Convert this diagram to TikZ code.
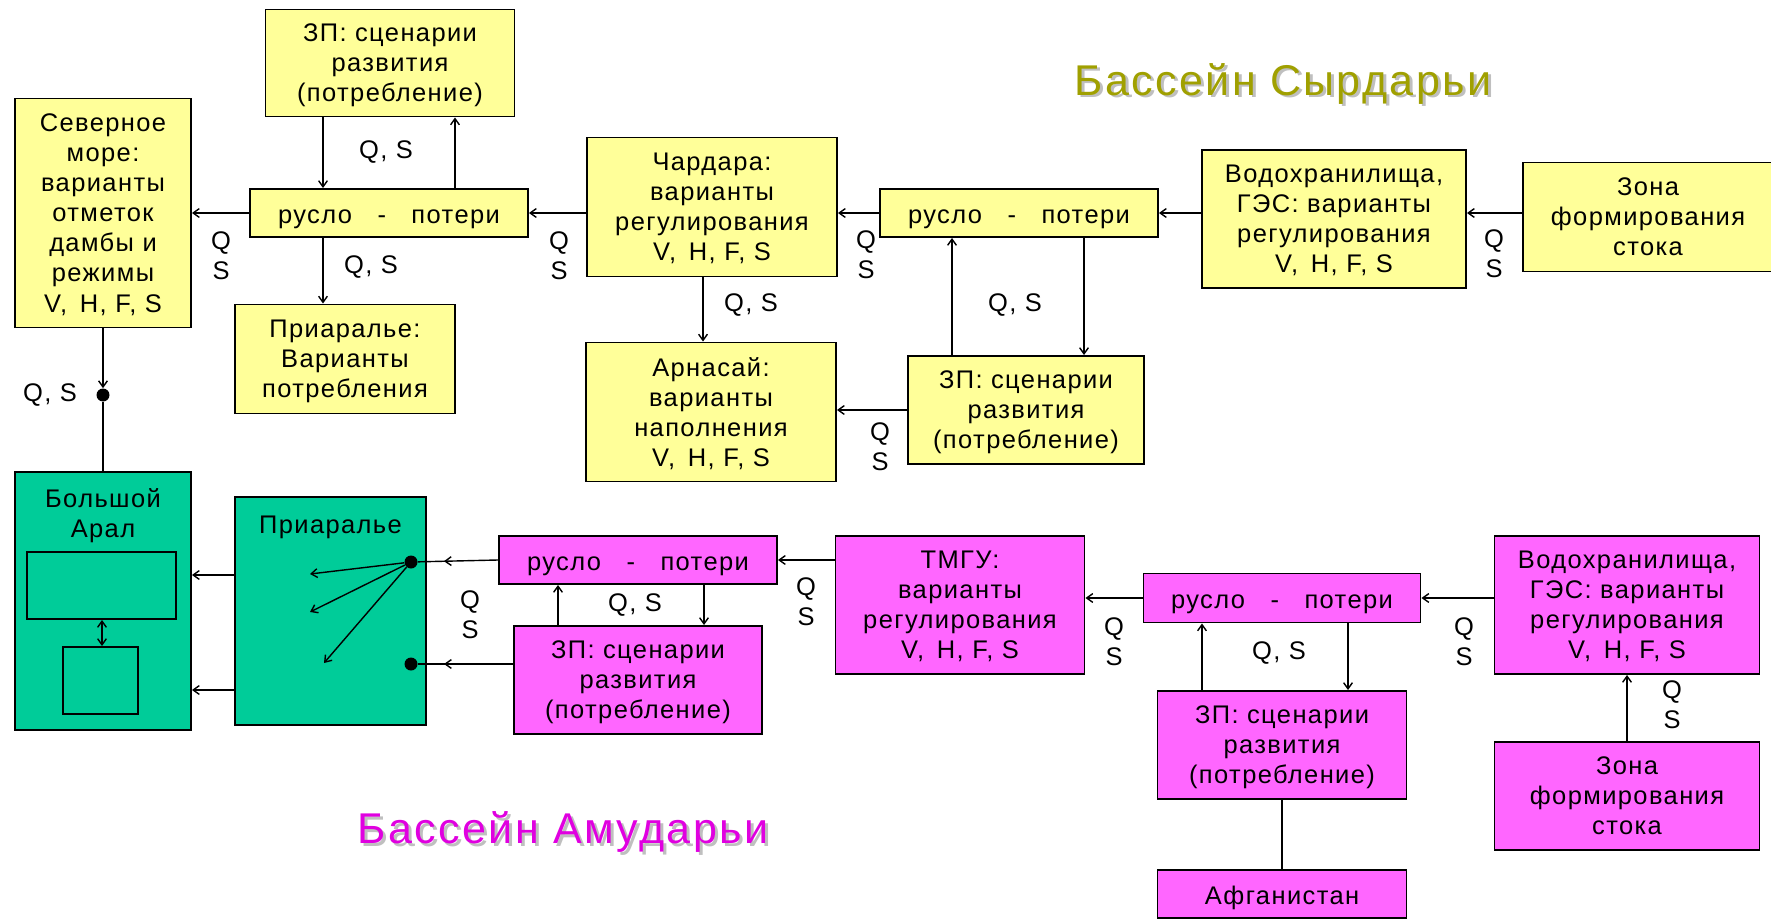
\documentclass[tikz,border=0pt]{standalone}
\usepackage{fontspec}
\setmainfont[LetterSpace=5.5]{Liberation Sans}
\usetikzlibrary{arrows.meta,decorations.markings}
\definecolor{syrfill}{HTML}{FFFF99}
\definecolor{amufill}{HTML}{FF66FF}
\definecolor{aralfill}{HTML}{00CC99}
\definecolor{syrtitle}{HTML}{A0A000}
\definecolor{amutitle}{HTML}{E000E0}
\tikzset{
  box/.style={
    draw=black, line width=1.1pt, inner sep=0pt, align=center,
    font=\fontsize{14.5}{17.1}\selectfont,
    execute at begin node={\rule{0pt}{15.5pt}}
  },
  tall/.style={text depth=#1},
  tall/.default=-1.2pt,
  boxsize/.style 2 args={minimum width=#1*0.02cm, minimum height=#2*0.02cm},
  syr box/.style={box, fill=syrfill},
  amu box/.style={box, fill=amufill},
  aral box/.style={box, fill=aralfill},
  link/.style={line width=0.8pt},
  flow/.style={link, -{Straight Barb[length=3.5pt,width=5pt]}},
  flow both/.style={link, {Straight Barb[length=3.5pt,width=5pt]}-{Straight Barb[length=3.5pt,width=5pt]}},
  mid flow/.style={
    link, postaction={decorate},
    decoration={markings,
      mark=at position #1 with {\arrow{Straight Barb[length=3.5pt,width=5pt]}}}
  },
  flow label/.style={align=center, inner sep=0pt, font=\fontsize{14.5}{17.1}\selectfont},
  junction/.style={circle, fill=black, inner sep=0pt, minimum size=0.26cm},
  basin title/.style={font=\fontsize{24.5}{29}\selectfont, anchor=base, inner sep=0pt}
}

\begin{document}
\begin{tikzpicture}[x=0.02cm, y=-0.02cm]
\useasboundingbox (0,0) rectangle (1771,919);

% Бассейн Сырдарьи
\begin{scope}
  \node[basin title, text=black!25] (syrShadow) at (1286,98) {Бассейн Сырдарьи};
  \node[basin title, text=syrtitle] (syrTitle) at (1283,95) {Бассейн Сырдарьи};

  \node[syr box, tall, boxsize={249}{107}] (zpA)   at (390,63)  {ЗП: сценарии\\развития\\(потребление)};
  \node[syr box, tall, boxsize={176}{229}] (sever) at (103,213) {Северное\\море:\\варианты\\отметок\\дамбы и\\режимы\\V, \,H, F, S};
  \node[syr box, boxsize={278}{48}]        (ruslA) at (389,213) {русло\quad-\quad потери};
  \node[syr box, tall, boxsize={220}{109}] (priA)  at (345,359) {Приаралье:\\Варианты\\потребления};
  \node[syr box, tall, boxsize={250}{139}] (chard) at (712,207) {Чардара:\\варианты\\регулирования\\V, \,H, F, S};
  \node[syr box, boxsize={278}{48}]        (ruslB) at (1019,213) {русло\quad-\quad потери};
  \node[syr box, tall, boxsize={250}{139}] (arnas) at (711,412) {Арнасай:\\варианты\\наполнения\\V, \,H, F, S};
  \node[syr box, tall, boxsize={236}{108}] (zpB)   at (1026,410) {ЗП: сценарии\\развития\\(потребление)};
  \node[syr box, tall, boxsize={264}{138}] (vodA)  at (1334,219) {Водохранилища,\\ГЭС: варианты\\регулирования\\V, \,H, F, S};
  \node[syr box, tall=-3.5pt, boxsize={250}{109}] (zonaA) at (1648,217) {Зона\\формирования\\стока};
  \node[junction] (dotA) at (103,395) {};

  \draw[flow] (323,0 |- zpA.south) -- (323,0 |- ruslA.north);
  \draw[flow] (455,0 |- ruslA.north) -- (455,0 |- zpA.south);
  \draw[flow] (ruslA.west) -- (ruslA.west -| sever.east);
  \draw[flow] (323,0 |- ruslA.south) -- (323,0 |- priA.north);
  \draw[flow] (chard.west |- ruslA.east) -- (ruslA.east);
  \draw[flow] (ruslB.west) -- (ruslB.west -| chard.east);
  \draw[flow] (vodA.west |- ruslB.east) -- (ruslB.east);
  \draw[flow] (zonaA.west |- ruslB.east) -- (vodA.east |- ruslB.east);
  \draw[flow] (703,0 |- chard.south) -- (703,0 |- arnas.north);
  \draw[flow] (952,0 |- zpB.north) -- (952,0 |- ruslB.south);
  \draw[flow] (1084,0 |- ruslB.south) -- (1084,0 |- zpB.north);
  \draw[flow] (zpB.west) -- (zpB.west -| arnas.east);
  \draw[flow] (sever.south) -- (dotA);

  \node[flow label] (qsA) at (386,152)  {Q, S};
  \node[flow label] (qsB) at (221,256)  {Q\\S};
  \node[flow label] (qsC) at (371,267)  {Q, S};
  \node[flow label] (qsD) at (559,256)  {Q\\S};
  \node[flow label] (qsE) at (866,255)  {Q\\S};
  \node[flow label] (qsF) at (1494,254) {Q\\S};
  \node[flow label] (qsG) at (751,305)  {Q, S};
  \node[flow label] (qsH) at (1015,305) {Q, S};
  \node[flow label] (qsI) at (880,447)  {Q\\S};
  \node[flow label] (qsJ) at (50,395)   {Q, S};
\end{scope}

% Бассейн Амударьи
\begin{scope}
  \node[basin title, text=black!25] (amuShadow) at (566,846) {Бассейн Амударьи};
  \node[basin title, text=amutitle] (amuTitle) at (563,843) {Бассейн Амударьи};

  \node[aral box, boxsize={176}{258},
        label={[flow label, anchor=north, yshift=-0.34cm]north:Большой\\Арал}] (bolAral) at (103,601) {};
  \node[aral box, boxsize={149}{67}] (inner1) at (101.5,585.5) {};
  \node[aral box, boxsize={75}{67}]  (inner2) at (100.5,680.5) {};
  \node[aral box, boxsize={191}{228},
        label={[flow label, anchor=north, yshift=-0.40cm]north:Приаралье}] (priG) at (330.5,611) {};
  \node[junction] (dotG1) at (411,562) {};
  \node[junction] (dotG2) at (411,664) {};
  \coordinate (fanA) at (310,574);
  \coordinate (fanB) at (310,612);
  \coordinate (fanC) at (324,663);

  \node[amu box, boxsize={278}{48}]        (ruslC) at (638,560)  {русло\quad-\quad потери};
  \node[amu box, tall, boxsize={248}{108}] (zpC)   at (638,680)  {ЗП: сценарии\\развития\\(потребление)};
  \node[amu box, tall, boxsize={249}{138}] (tmgu)  at (960,605)  {ТМГУ:\\варианты\\регулирования\\V, \,H, F, S};
  \node[amu box, boxsize={277}{49}]        (ruslD) at (1282,598) {русло\quad-\quad потери};
  \node[amu box, tall, boxsize={249}{108}] (zpD)   at (1282,745) {ЗП: сценарии\\развития\\(потребление)};
  \node[amu box, boxsize={249}{48}]        (afgan) at (1282,894) {Афганистан};
  \node[amu box, tall, boxsize={265}{138}] (vodB)  at (1627,605) {Водохранилища,\\ГЭС: варианты\\регулирования\\V, \,H, F, S};
  \node[amu box, tall=-3.5pt, boxsize={265}{108}] (zonaB) at (1627,796) {Зона\\формирования\\стока};

  \draw[link] (dotA) -- (bolAral.north);
  \draw[flow both] (102,0 |- inner1.south) -- (102,0 |- inner2.north);
  \draw[flow] (priG.west |- 0,575) -- (bolAral.east |- 0,575);
  \draw[flow] (priG.west |- 0,690) -- (bolAral.east |- 0,690);
  \draw[flow] (dotG1) -- (fanA);
  \draw[flow] (dotG1) -- (fanB);
  \draw[flow] (dotG1) -- (fanC);
  \draw[mid flow=0.675] (ruslC.west) -- (dotG1);
  \draw[mid flow=0.725] (zpC.west |- dotG2) -- (dotG2);
  \draw[flow] (704,0 |- ruslC.south) -- (704,0 |- zpC.north);
  \draw[flow] (558,0 |- zpC.north) -- (558,0 |- ruslC.south);
  \draw[flow] (tmgu.west |- ruslC.east) -- (ruslC.east);
  \draw[flow] (ruslD.west) -- (ruslD.west -| tmgu.east);
  \draw[flow] (vodB.west |- ruslD.east) -- (ruslD.east);
  \draw[flow] (1202,0 |- zpD.north) -- (1202,0 |- ruslD.south);
  \draw[flow] (1348,0 |- ruslD.south) -- (1348,0 |- zpD.north);
  \draw[link] (zpD.south) -- (afgan.north);
  \draw[flow] (zonaB.north) -- (vodB.south);

  \node[flow label] (qsK) at (470,615)  {Q\\S};
  \node[flow label] (qsL) at (635,605)  {Q, S};
  \node[flow label] (qsM) at (806,602)  {Q\\S};
  \node[flow label] (qsN) at (1114,642) {Q\\S};
  \node[flow label] (qsO) at (1464,642) {Q\\S};
  \node[flow label] (qsP) at (1279,653) {Q, S};
  \node[flow label] (qsQ) at (1672,705) {Q\\S};
\end{scope}

\end{tikzpicture}
\end{document}
